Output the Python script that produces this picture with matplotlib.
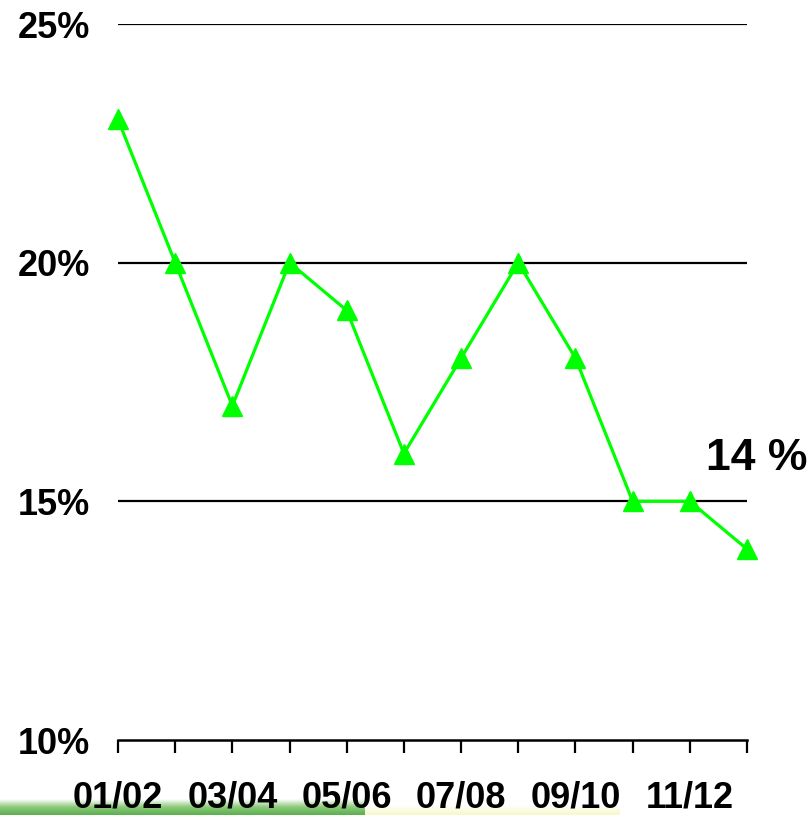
#!/usr/bin/env python3
"""Line chart of yearly percentage values, 01/02 to 12/13."""

import matplotlib
matplotlib.use("Agg")
import matplotlib.pyplot as plt
import numpy as np
from matplotlib.colors import LinearSegmentedColormap

seasons = ["01/02", "02/03", "03/04", "04/05", "05/06", "06/07",
           "07/08", "08/09", "09/10", "10/11", "11/12", "12/13"]
rates = [23, 20, 17, 20, 19, 16, 18, 20, 18, 15, 15, 14]
y_ticks = [10, 15, 20, 25]
last_label = "14 %"

FONT = ["Liberation Sans Narrow", "Liberation Sans", "DejaVu Sans"]
W, H = 811, 815

fig = plt.figure(figsize=(W / 100, H / 100), dpi=100)
fig.patch.set_facecolor("white")

# decorative slide strip along the bottom edge
strip = fig.add_axes([0, 0, 365 / W, 16 / H])
green = LinearSegmentedColormap.from_list("g", ["#ffffff", "#8cc97a", "#5bb04f"])
strip.imshow(np.linspace(0, 1, 50)[:, None] * np.ones((1, 10)), cmap=green,
             aspect="auto", extent=[0, 1, 0, 1], origin="upper")
strip.set_axis_off()
pale = fig.add_axes([365 / W, 0, 255 / W, 10 / H])
yellow = LinearSegmentedColormap.from_list("y", ["#ffffff", "#f8f8c8"])
pale.imshow(np.linspace(0, 1, 50)[:, None] * np.ones((1, 10)), cmap=yellow,
            aspect="auto", extent=[0, 1, 0, 1], origin="upper")
pale.set_axis_off()

ax = fig.add_axes([118 / W, 1 - 740 / H, (747 - 118) / W, (740 - 24) / H])
ax.set_facecolor("none")
x = np.arange(len(seasons))

for v in y_ticks[1:]:
    ax.axhline(v, color="black", lw=1.6, zorder=1)

ax.plot(x, rates, color="#00ff00", lw=2.3, marker="^", ms=15,
        markeredgecolor="#00ff00", zorder=3, clip_on=False)

ax.set_xlim(0, len(seasons) - 1)
ax.set_ylim(10, 25)
for side in ("top", "right", "left"):
    ax.spines[side].set_visible(False)
ax.spines["bottom"].set_linewidth(1.8)

ax.set_xticks(x)
ax.set_xticklabels([s if i % 2 == 0 else "" for i, s in enumerate(seasons)])
ax.tick_params(axis="x", direction="out", length=9, width=1.6, pad=20)
ax.set_yticks(y_ticks)
ax.set_yticklabels([f"{v}%" for v in y_ticks])
ax.tick_params(axis="y", length=0, pad=20)
for lab in ax.get_xticklabels() + ax.get_yticklabels():
    lab.set_family(FONT)
    lab.set_fontweight("bold")
    lab.set_fontsize(26)

ax.text(11.17, 15.9, last_label, ha="center", va="center", fontsize=32,
        fontweight="bold", family=FONT, clip_on=False)

fig.savefig("out.png", dpi=100)
